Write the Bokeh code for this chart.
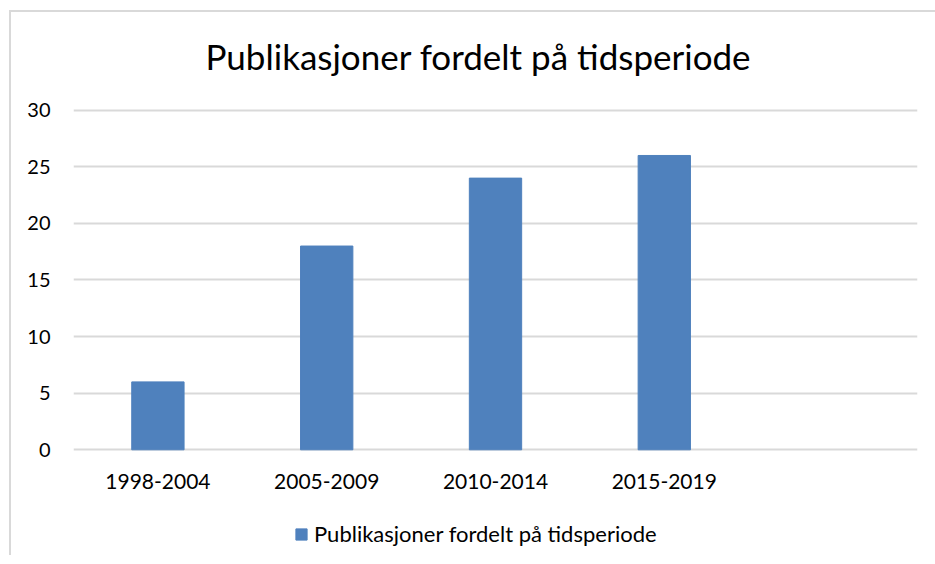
from bokeh.plotting import figure
from bokeh.layouts import column
from bokeh.models import FactorRange, Range1d, ColumnDataSource, Legend, LegendItem
from bokeh.embed import file_html
from bokeh.resources import INLINE

# ---- data ----
categories = ["1998-2004", "2005-2009", "2010-2014", "2015-2019"]
values = [6, 18, 24, 26]
series_name = "Publikasjoner fordelt på tidsperiode"
title_text = "Publikasjoner fordelt på tidsperiode"
y_ticks = [0, 5, 10, 15, 20, 25, 30]

FONT = "Lato"
BAR = "#4F81BD"
GRID = "#D9D9D9"

source = ColumnDataSource(data=dict(cat=categories, val=values))
factors = categories + [" "]

p = figure(
    x_range=FactorRange(factors=factors),
    y_range=Range1d(-0.15, 31.21),
    width=924, height=493,
    output_backend="svg", toolbar_location=None,
    min_border_left=62, min_border_right=18,
    min_border_top=84, min_border_bottom=54,
)
p.outline_line_color = None
p.background_fill_color = "white"
p.border_fill_color = "white"

r = p.vbar(x="cat", top="val", bottom=0, width=0.31, source=source,
           fill_color=BAR, line_color=BAR)

# title
p.title.text = title_text
p.title.align = "left"
p.title.offset = 132
p.title.text_font = FONT
p.title.text_font_size = "35px"
p.title.text_font_style = "normal"
p.title.text_color = "#000000"
p.title.standoff = 39

# axes
p.xaxis.axis_line_color = None
p.xaxis.major_tick_line_color = None
p.xaxis.minor_tick_line_color = None
p.xaxis.major_tick_out = 0
p.xaxis.major_label_text_font = FONT
p.xaxis.major_label_text_font_size = "21px"
p.xaxis.major_label_text_color = "#000000"
p.xaxis.major_label_standoff = 16

p.yaxis.ticker = y_ticks
p.yaxis.axis_line_color = None
p.yaxis.major_tick_line_color = None
p.yaxis.minor_tick_line_color = None
p.yaxis.major_tick_out = 0
p.yaxis.major_label_text_font = FONT
p.yaxis.major_label_text_font_size = "20px"
p.yaxis.major_label_text_color = "#000000"
p.yaxis.major_label_standoff = 23

p.xgrid.grid_line_color = None
p.ygrid.grid_line_color = GRID
p.ygrid.grid_line_width = 2

# legend strip below the chart
p2 = figure(
    x_range=FactorRange(factors=factors),
    y_range=Range1d(100, 101),
    width=924, height=50,
    output_backend="svg", toolbar_location=None,
    x_axis_location=None, y_axis_location=None,
    min_border_left=0, min_border_right=0, min_border_top=0, min_border_bottom=0,
)
p2.outline_line_color = None
p2.grid.grid_line_color = None
p2.background_fill_color = "white"
p2.border_fill_color = "white"
r2 = p2.vbar(x="cat", top="val", bottom=0, width=0.31, source=source,
             fill_color=BAR, line_color=BAR)

legend = Legend(items=[LegendItem(label=series_name, renderers=[r2])],
                location=(221, 8), orientation="horizontal",
                label_text_font=FONT, label_text_font_size="22px",
                label_text_color="#000000",
                glyph_width=14, glyph_height=14, label_standoff=6,
                border_line_color=None, background_fill_alpha=0,
                margin=0, padding=0)
p2.add_layout(legend)

layout = column(p, p2, spacing=0,
                styles={"border-left": "2px solid #d9d9d9",
                        "border-top": "2px solid #d9d9d9",
                        "margin-left": "9px", "margin-top": "10px"})

open("out.html", "w").write(file_html(layout, INLINE))
